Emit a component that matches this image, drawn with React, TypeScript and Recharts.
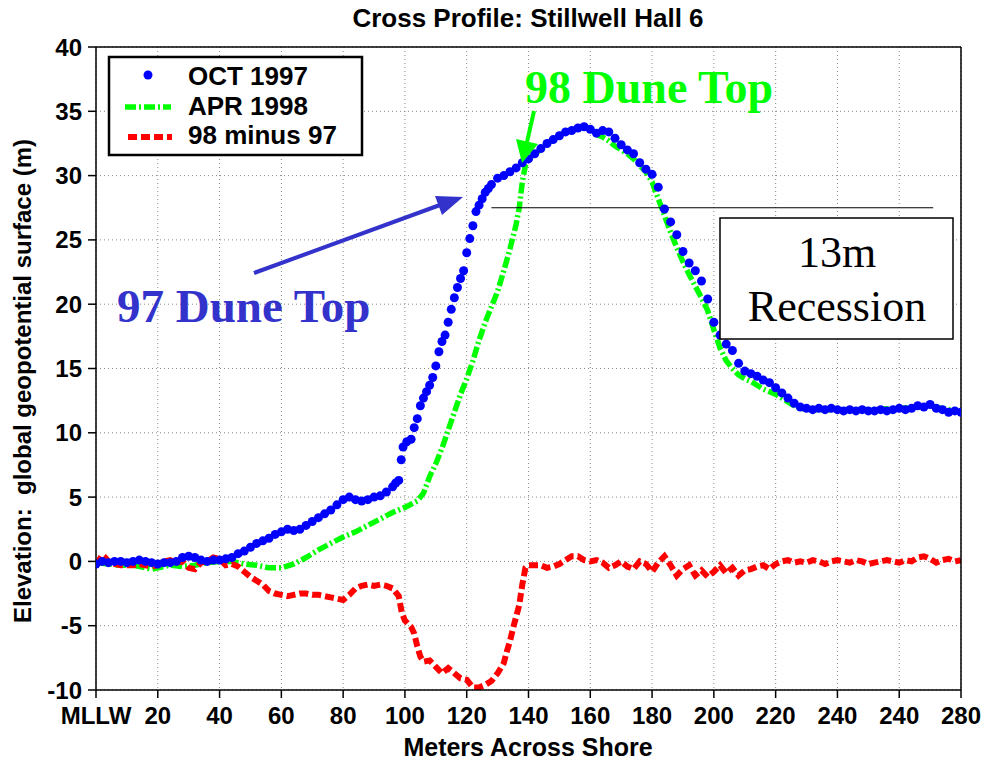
import { ComposedChart, Line, XAxis, YAxis, CartesianGrid, ReferenceLine } from 'recharts';

// Cross profile readings, [meters across shore, elevation m]
const oct1997: [number, number][] = [
  [0, -0.2], [2, 0.0], [4, -0.1], [6, 0.0], [8, 0.0], [10, -0.1], [12, 0.0], [14, 0.1], [16, 0.0], [18, -0.1],
  [20, -0.2], [22, -0.1], [24, -0.1], [26, 0.0], [28, 0.3], [30, 0.4], [32, 0.3], [34, 0.1], [36, 0.0], [38, 0.1],
  [40, 0.1], [42, 0.2], [44, 0.3], [46, 0.6], [48, 0.8], [50, 1.1], [52, 1.4], [54, 1.6], [56, 1.8], [58, 2.1],
  [60, 2.3], [62, 2.5], [64, 2.4], [66, 2.5], [68, 2.8], [70, 3.1], [72, 3.4], [74, 3.7], [76, 4.0], [78, 4.4],
  [80, 4.8], [82, 5.0], [84, 4.8], [86, 4.7], [88, 4.8], [90, 5.0], [92, 5.1], [94, 5.4], [96, 5.8], [97, 6.1],
  [98, 6.3], [98.8, 7.9], [99.4, 8.9], [100.6, 9.3], [102, 9.5], [103, 10.4], [104, 11.1], [105, 12.1], [106, 12.7],
  [107, 13.2], [108, 13.7], [109, 14.3], [110, 15.2], [111, 16.3], [112, 17.1], [113, 17.6], [114, 18.6], [115, 19.6],
  [116, 20.5], [117, 21.3], [118, 22.0], [119, 22.6], [120, 24.0], [121, 25.1], [122, 26.1], [123, 27.2], [124, 27.7],
  [125, 28.2], [126, 28.7], [127, 29.0], [128, 29.3], [130, 29.8], [132, 30.0], [134, 30.3], [136, 30.6], [138, 31.0],
  [140, 31.3], [142, 31.7], [144, 32.1], [146, 32.5], [148, 32.8], [150, 33.1], [152, 33.4], [154, 33.5], [156, 33.7],
  [158, 33.8], [160, 33.6], [162, 33.3], [164, 33.5], [166, 33.4], [168, 32.9], [170, 32.4], [172, 32.0], [174, 31.7],
  [176, 31.0], [178, 30.5], [180, 30.1], [182, 29.1], [184, 27.4], [186, 26.4], [188, 25.4], [190, 24.1], [192, 23.2],
  [194, 22.6], [196, 21.8], [198, 20.4], [200, 18.6], [202, 17.6], [204, 16.9], [206, 16.4], [208, 15.4], [210, 14.8],
  [212, 14.6], [214, 14.4], [216, 14.1], [218, 13.9], [220, 13.5], [222, 13.1], [224, 12.7], [226, 12.3], [228, 12.0],
  [230, 11.9], [232, 11.8], [234, 11.9], [236, 11.8], [238, 11.9], [240, 11.8], [242, 11.7], [244, 11.8], [246, 11.7],
  [248, 11.8], [250, 11.7], [252, 11.7], [254, 11.8], [256, 11.7], [258, 11.8], [260, 11.9], [262, 11.8], [264, 11.9],
  [266, 12.1], [268, 12.0], [270, 12.2], [272, 11.9], [274, 11.8], [276, 11.6], [278, 11.7], [280, 11.6],
];

const apr1998: [number, number][] = [
  [0, -0.1], [4, -0.2], [8, -0.3], [12, -0.3], [16, -0.5], [18, -0.6], [20, -0.5], [24, -0.3], [28, -0.4], [32, -0.3],
  [36, -0.1], [40, 0.0], [44, 0.0], [48, -0.2], [52, -0.3], [56, -0.5], [60, -0.5], [64, -0.2], [68, 0.3], [72, 0.9],
  [76, 1.4], [80, 1.9], [84, 2.3], [88, 2.8], [92, 3.3], [96, 3.8], [100, 4.2], [104, 4.7], [106, 5.3], [108, 6.6],
  [110, 7.6], [112, 8.8], [114, 10.2], [116, 11.6], [118, 13.0], [120, 14.2], [122, 15.6], [124, 17.2], [126, 18.6],
  [128, 19.8], [130, 21.0], [132, 22.6], [134, 24.3], [136, 26.2], [137, 27.5], [138, 29.5], [139, 30.8], [140, 31.3],
  [142, 31.7], [144, 32.0], [146, 32.5], [148, 32.8], [150, 33.1], [152, 33.4], [154, 33.6], [156, 33.7], [158, 33.8],
  [160, 33.6], [162, 33.2], [164, 33.0], [166, 32.7], [168, 32.3], [170, 32.0], [172, 31.7], [174, 31.3], [176, 30.8],
  [178, 30.3], [180, 29.5], [182, 28.2], [184, 26.9], [186, 25.6], [188, 24.4], [190, 23.3], [192, 22.3], [194, 21.4],
  [196, 20.5], [198, 19.5], [200, 18.0], [202, 16.6], [204, 15.6], [206, 15.0], [208, 14.5], [210, 14.2], [212, 14.0],
  [214, 13.7], [216, 13.4], [218, 13.2], [220, 13.0], [222, 12.7], [224, 12.4], [226, 12.1], [228, 11.9], [232, 11.8],
  [240, 11.8], [250, 11.8], [260, 11.9], [266, 12.0], [270, 12.1], [274, 11.9], [280, 11.6],
];

const diff98minus97: [number, number][] = [
  [0, -0.2], [1, 0.1], [2, 0.5], [3, 0.3], [4, 0.0], [6, -0.2], [8, -0.3], [10, -0.3], [12, -0.3], [14, -0.2],
  [16, -0.3], [18, -0.4], [20, -0.3], [22, 0.0], [24, 0.1], [26, -0.1], [28, 0.0], [30, -0.5], [32, -0.6], [34, -0.1],
  [36, 0.0], [38, 0.3], [40, 0.2], [42, -0.3], [44, -0.2], [46, -0.4], [48, -0.8], [50, -1.2], [52, -1.5], [54, -1.8],
  [56, -2.3], [58, -2.5], [60, -2.6], [62, -2.7], [64, -2.6], [66, -2.5], [68, -2.5], [70, -2.6], [72, -2.6], [74, -2.7],
  [76, -2.8], [78, -2.9], [80, -3.0], [82, -2.6], [84, -2.1], [86, -1.9], [88, -1.8], [90, -1.9], [92, -1.8], [94, -1.9],
  [96, -2.1], [98, -2.7], [99, -4.0], [100, -4.6], [102, -5.1], [103, -5.6], [104, -6.6], [105, -7.4], [106, -7.8],
  [108, -7.7], [110, -8.2], [112, -8.7], [114, -8.3], [116, -8.7], [118, -9.1], [120, -9.2], [122, -9.8], [124, -9.8],
  [126, -9.6], [128, -9.3], [130, -8.7], [132, -7.9], [133, -7.0], [134, -6.2], [135, -5.2], [136, -4.3], [137, -3.4],
  [138, -1.8], [139, -0.5], [140, -0.3], [142, -0.3], [144, -0.3], [146, -0.5], [148, -0.4], [150, -0.2], [152, 0.1],
  [154, 0.4], [156, 0.4], [158, 0.1], [160, 0.0], [162, 0.1], [164, -0.1], [166, -0.5], [168, -0.3], [170, 0.0],
  [172, -0.4], [174, -0.6], [176, 0.0], [178, -0.2], [180, -0.8], [182, -0.1], [184, 0.4], [186, -0.3], [188, -1.1],
  [190, -0.6], [192, -0.3], [194, -1.1], [196, -0.7], [198, -1.2], [200, -0.8], [202, -0.3], [204, -0.9], [206, -0.5],
  [208, -1.1], [210, -0.7], [212, -0.6], [214, -0.4], [216, -0.3], [218, -0.6], [220, -0.2], [222, 0.0], [224, 0.1],
  [226, -0.1], [228, 0.0], [230, -0.1], [232, 0.1], [234, 0.0], [236, -0.2], [238, 0.0], [240, 0.1], [242, 0.0],
  [244, -0.1], [246, 0.1], [248, 0.0], [250, -0.2], [252, -0.1], [254, 0.0], [256, 0.1], [258, 0.0], [260, -0.1],
  [262, 0.1], [264, 0.0], [266, 0.3], [268, 0.4], [270, 0.2], [272, -0.1], [274, 0.1], [276, 0.2], [278, 0.0], [280, 0.1],
];

const xTicks = [0, 20, 40, 60, 80, 100, 120, 140, 160, 180, 200, 220, 240, 260, 280];
// the original figure labels 260 as "240", kept as drawn
const xTickLabels = ['MLLW', '20', '40', '60', '80', '100', '120', '140', '160', '180', '200', '220', '240', '240', '280'];
const yTicks = [-10, -5, 0, 5, 10, 15, 20, 25, 30, 35, 40];

// 13 m recession marker line (x from, x to, elevation)
const recessionLine = { from: 128, to: 271, y: 27.5 };

const SANS = '"Liberation Sans", Arial, Helvetica, sans-serif';
const SERIF = '"Liberation Serif", "Times New Roman", serif';

const toRows = (pts: [number, number][]) => pts.map(([x, y]) => ({ x, y }));

const tickStyle = { fill: '#000', fontSize: 24, fontWeight: 700, fontFamily: SANS };

export default function App() {
  const xLabel = (v: number) => {
    const i = xTicks.indexOf(v);
    return i >= 0 ? xTickLabels[i] : String(v);
  };

  return (
    <div style={{ position: 'absolute', left: 0, top: 0, width: 990, height: 761, background: '#fff' }}>
      <ComposedChart width={990} height={761} margin={{ top: 37, right: 19, bottom: 31, left: 36 }}>
        <CartesianGrid stroke="#888" strokeDasharray="1 3" strokeWidth={1} />
        <XAxis
          xAxisId={0}
          dataKey="x"
          type="number"
          domain={[0, 280]}
          ticks={xTicks}
          tickFormatter={xLabel}
          allowDataOverflow
          height={40}
          tick={tickStyle}
          tickSize={8}
          tickMargin={9}
          axisLine={{ stroke: '#000', strokeWidth: 1.5 }}
          tickLine={{ stroke: '#000', strokeWidth: 1.5 }}
          interval={0}
        />
        <XAxis
          xAxisId="top"
          orientation="top"
          type="number"
          domain={[0, 280]}
          ticks={xTicks}
          tickFormatter={() => ''}
          height={10}
          tickSize={7}
          axisLine={{ stroke: '#000', strokeWidth: 1.5 }}
          tickLine={{ stroke: '#000', strokeWidth: 1.5 }}
          interval={0}
        />
        <YAxis
          yAxisId={0}
          type="number"
          domain={[-10, 40]}
          ticks={yTicks}
          allowDataOverflow
          width={60}
          tick={tickStyle}
          tickSize={8}
          tickMargin={6}
          axisLine={{ stroke: '#000', strokeWidth: 1.5 }}
          tickLine={{ stroke: '#000', strokeWidth: 1.5 }}
          interval={0}
        />
        <YAxis
          yAxisId="right"
          orientation="right"
          type="number"
          domain={[-10, 40]}
          ticks={yTicks}
          tickFormatter={() => ''}
          width={10}
          tickSize={7}
          axisLine={{ stroke: '#000', strokeWidth: 1.5 }}
          tickLine={{ stroke: '#000', strokeWidth: 1.5 }}
          interval={0}
        />

        <Line
          data={toRows(oct1997)}
          dataKey="y"
          stroke="none"
          dot={{ r: 4.5, fill: '#0000ff', stroke: 'none' }}
          activeDot={false}
          isAnimationActive={false}
        />
        <Line
          data={toRows(apr1998)}
          dataKey="y"
          type="linear"
          stroke="#00ff00"
          strokeWidth={5.5}
          strokeDasharray="11 3 2 3"
          dot={false}
          activeDot={false}
          isAnimationActive={false}
        />
        <Line
          data={toRows(diff98minus97)}
          dataKey="y"
          type="linear"
          stroke="#ff0000"
          strokeWidth={6}
          strokeDasharray="9 4"
          dot={false}
          activeDot={false}
          isAnimationActive={false}
        />

        <ReferenceLine
          segment={[{ x: recessionLine.from, y: recessionLine.y }, { x: recessionLine.to, y: recessionLine.y }]}
          stroke="#000"
          strokeWidth={1.2}
        />
      </ComposedChart>

      {/* titles, legend and hand-placed annotations */}
      <svg
        width={990}
        height={761}
        style={{ position: 'absolute', left: 0, top: 0, pointerEvents: 'none' }}
      >
        <text x={528} y={27} textAnchor="middle" fontFamily={SANS} fontWeight={700} fontSize={26} fill="#000">
          Cross Profile: Stillwell Hall 6
        </text>
        <text x={528} y={756} textAnchor="middle" fontFamily={SANS} fontWeight={700} fontSize={25} fill="#000">
          Meters Across Shore
        </text>
        <text
          x={31}
          y={381}
          transform="rotate(-90 31 381)"
          textAnchor="middle"
          fontFamily={SANS}
          fontWeight={700}
          fontSize={24}
          fill="#000"
          xmlSpace="preserve"
        >
          Elevation:  global geopotential surface (m)
        </text>

        {/* legend */}
        <rect x={109} y={57} width={253} height={98} fill="#fff" stroke="#000" strokeWidth={2.5} />
        <circle cx={148} cy={75} r={4.5} fill="#0000ff" />
        <line x1={125} y1={107} x2={171} y2={107} stroke="#00ff00" strokeWidth={5.5} strokeDasharray="11 3 2 3" />
        <line x1={128} y1={137} x2={172} y2={137} stroke="#ff0000" strokeWidth={6} strokeDasharray="9 4" />
        <g fontFamily={SANS} fontWeight={700} fontSize={26} fill="#000">
          <text x={188} y={85}>OCT 1997</text>
          <text x={188} y={115}>APR 1998</text>
          <text x={188} y={144}>98 minus 97</text>
        </g>

        {/* 97 dune top */}
        <line x1={254} y1={273} x2={440} y2={205} stroke="#3333cc" strokeWidth={4} />
        <polygon points="463,197 442,215 435,196" fill="#3333cc" />
        <text x={117} y={322} fontFamily={SERIF} fontWeight={700} fontSize={47} fill="#3333cc">
          97 Dune Top
        </text>

        {/* 98 dune top */}
        <line x1={534} y1={111} x2={527} y2={142} stroke="#00ff00" strokeWidth={4} />
        <polygon points="522,163 538,144 516,139" fill="#00ff00" />
        <text x={525} y={103} fontFamily={SERIF} fontWeight={700} fontSize={46} fill="#00ff00">
          98 Dune Top
        </text>

        {/* recession box */}
        <rect x={720} y={218} width={233} height={121} fill="#fff" stroke="#000" strokeWidth={1.5} />
        <g fontFamily={SERIF} fontSize={44} fill="#000" textAnchor="middle">
          <text x={837} y={267}>13m</text>
          <text x={837} y={321}>Recession</text>
        </g>
      </svg>
    </div>
  );
}
